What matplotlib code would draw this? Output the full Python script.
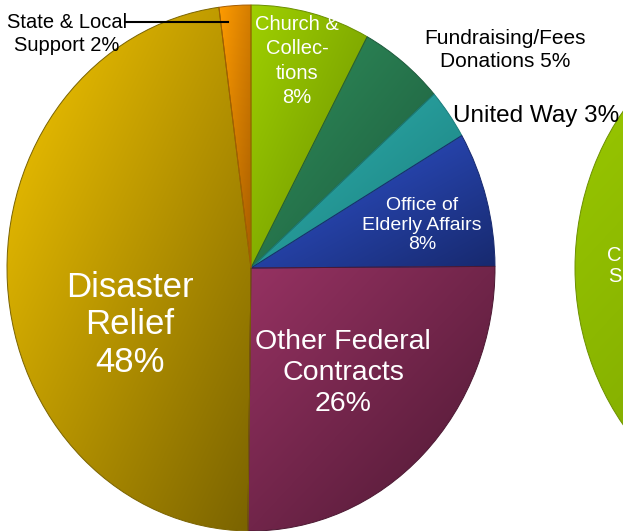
import numpy as np
import matplotlib
matplotlib.use('Agg')
import matplotlib.pyplot as plt
from matplotlib.colors import to_rgb
from matplotlib.lines import Line2D

plt.rcParams['font.family'] = ['Liberation Sans', 'DejaVu Sans']

######################################################
# Data (shares, labels as printed)
categories = ['Church & Collections', 'Fundraising/Fees Donations', 'United Way',
              'Office of Elderly Affairs', 'Other Federal Contracts',
              'Disaster Relief', 'State & Local Support']
shares = [7.9, 5.6, 3.1, 8.3, 25.3, 47.7, 2.1]
labels = ['Church &\nCollec-\ntions\n8%', 'Fundraising/Fees\nDonations 5%', 'United Way 3%',
          'Office of\nElderly Affairs\n8%', 'Other Federal\nContracts\n26%',
          'Disaster\nRelief\n48%', 'State & Local\nSupport 2%']

# light / dark end of each slice gradient
light = ['#9fd000', '#2f8f5c', '#2fb2b0', '#3156d6', '#963262', '#f6c700', '#ff9c00']
dark = ['#6a8e00', '#1d5a3c', '#1a7c7b', '#17296e', '#4c1832', '#7a6300', '#a65c00']

# second (cut off) pie on the right
second_shares = [100]
second_light = ['#9ccc00']
second_dark = ['#6c9000']

W, H = 623, 531
fig = plt.figure(figsize=(W / 100, H / 100), dpi=100)


def px(x, y):
    return x / W, 1 - y / H


def gradient_pie(ax, values, c_light, c_dark):
    wedges, _ = ax.pie(values, startangle=90, counterclock=False, radius=1)
    for w, cl, cd in zip(wedges, c_light, c_dark):
        ext = w.get_path().get_extents()
        n = 200
        xx, yy = np.meshgrid(np.linspace(0, 1, n), np.linspace(0, 1, n))
        t = (xx + yy) / 2
        img = (1 - t)[..., None] * np.array(to_rgb(cl)) + t[..., None] * np.array(to_rgb(cd))
        im = ax.imshow(img, extent=(ext.x0, ext.x1, ext.y0, ext.y1), origin='upper',
                       aspect='auto', zorder=2, interpolation='bilinear')
        im.set_clip_path(w)
        # wedge itself only draws the outline, on top of the gradient
        w.set_facecolor('none')
        w.set_edgecolor(cd)
        w.set_linewidth(0.7)
        w.set_zorder(3)
    ax.set_aspect('auto')
    ax.set_xlim(-1, 1)
    ax.set_ylim(-1, 1)
    ax.axis('off')
    return wedges


# main pie: centre (251, 268), half axes 244 x 263 px
ax = fig.add_axes([7 / W, 0, 488 / W, 526 / H])
gradient_pie(ax, shares, light, dark)

ax2 = fig.add_axes([575 / W, 0, 488 / W, 526 / H])
gradient_pie(ax2, second_shares, second_light, second_dark)

# slice labels
fig.text(*px(297, 61), labels[0], color='white', fontsize=14.5, ha='center', va='center',
         linespacing=1.36)
fig.text(*px(505, 50), labels[1], color='black', fontsize=15, ha='center', va='center',
         linespacing=1.3)
fig.text(*px(536, 116), labels[2], color='black', fontsize=17.5, ha='center', va='center')
fig.text(*px(422, 225), labels[3], color='white', fontsize=14, ha='center', va='center',
         linespacing=1.22)
fig.text(*px(343, 373), labels[4], color='white', fontsize=20.5, ha='center', va='center',
         linespacing=1.26)
fig.text(*px(130, 325), labels[5], color='white', fontsize=25, ha='center', va='center',
         linespacing=1.18)
fig.text(*px(67, 34), labels[6], color='black', fontsize=14.5, ha='center', va='center',
         linespacing=1.3)
fig.text(*px(622, 266), 'C\nS', color='white', fontsize=14.5, ha='right', va='center',
         linespacing=1.1)

# leader line for the small slice
x0, y0 = px(125, 22)
x1, y1 = px(228, 22)
fig.add_artist(Line2D([x0, x1], [y0, y1], color='black', lw=1.5, transform=fig.transFigure))

fig.savefig('out.png', dpi=100)
